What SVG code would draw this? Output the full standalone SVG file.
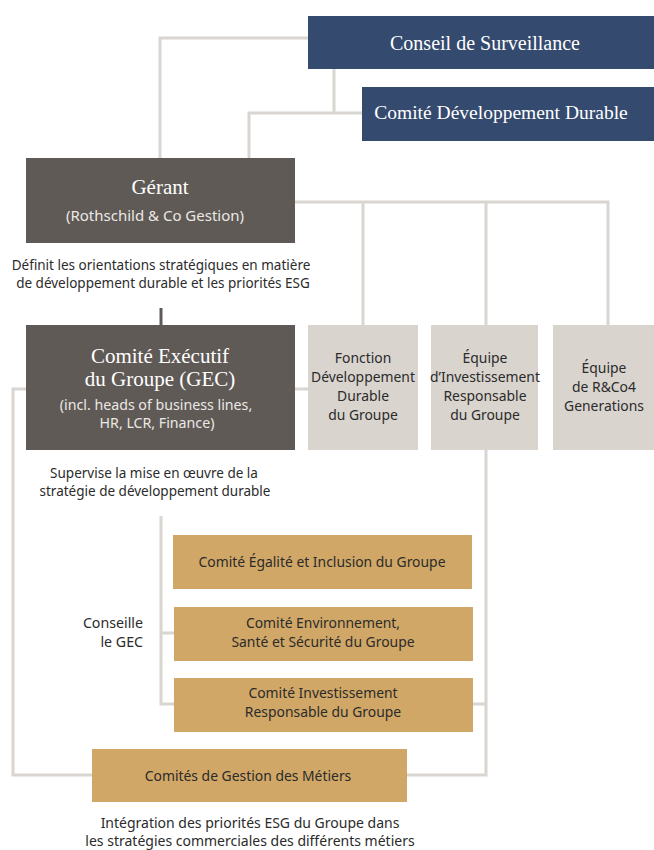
<svg xmlns="http://www.w3.org/2000/svg" width="654" height="850" viewBox="0 0 654 850">
<style>
.navy{fill:#344a6e}
.dark{fill:#5f5a56}
.lgray{fill:#d9d4ce}
.gold{fill:#d0a766}
.ln{fill:none;stroke:#d9d5d0;stroke-width:3}
.lnd{fill:none;stroke:#5f5a56;stroke-width:3}
.serif{font-family:"Liberation Serif","DejaVu Serif",serif;fill:#ffffff;text-anchor:middle}
.sans{font-family:"Noto Sans","Liberation Sans",sans-serif;text-anchor:middle}
.w{fill:#ebe8e5}
.k{fill:#2b2b2b}
.d{font-size:13.5px}
.b{font-size:13.9px}
.s{font-size:14.2px}
</style>
<rect width="654" height="850" fill="#ffffff"/>
<g id="connectors">
<path class="ln" d="M308,38 H160 V158"/>
<path class="ln" d="M334,69 V113 M362,113 H249 V158"/>
<path class="ln" d="M295,202 H608 V325 M363,202 V325 M486,202 V325"/>
<path class="lnd" d="M161,308 V325"/>
<path class="ln" d="M26,389 H13 V775 H92"/>
<path class="ln" d="M295,389 H308"/>
<path class="ln" d="M486,450 V775 H407 M473,704 H486"/>
<path class="ln" d="M161,516 V704 H174 M161,633 H174"/>
</g>
<g id="conseil">
<rect class="navy" x="308" y="16" width="346" height="53"/>
<text class="serif" x="485" y="50" font-size="20">Conseil de Surveillance</text>
</g>
<g id="comite-dd">
<rect class="navy" x="362" y="87" width="292" height="54"/>
<text class="serif" x="501" y="119" font-size="19.5">Comité Développement Durable</text>
</g>
<g id="gerant">
<rect class="dark" x="26" y="158" width="269" height="85"/>
<text class="serif" x="160" y="194" font-size="21">Gérant</text>
<text class="sans w" x="155" y="221" font-size="15">(Rothschild &amp; Co Gestion)</text>
</g>
<g id="gerant-desc">
<text class="sans k d" x="161" y="270">Définit les orientations stratégiques en matière</text>
<text class="sans k d" x="163" y="288">de développement durable et les priorités ESG</text>
</g>
<g id="gec">
<rect class="dark" x="26" y="325" width="269" height="125"/>
<text class="serif" x="160" y="363" font-size="21">Comité Exécutif</text>
<text class="serif" x="160" y="386" font-size="21">du Groupe (GEC)</text>
<text class="sans w s" x="156" y="410">(incl. heads of business lines,</text>
<text class="sans w s" x="157" y="428">HR, LCR, Finance)</text>
</g>
<g id="gec-desc">
<text class="sans k d" x="154" y="478">Supervise la mise en œuvre de la</text>
<text class="sans k d" x="155" y="496">stratégie de développement durable</text>
</g>
<g id="fonction-dd">
<rect class="lgray" x="308" y="325" width="110" height="125"/>
<text class="sans k b" x="363" y="363">Fonction</text>
<text class="sans k b" x="363" y="382">Développement</text>
<text class="sans k b" x="363" y="401">Durable</text>
<text class="sans k b" x="363" y="420">du Groupe</text>
</g>
<g id="equipe-ir">
<rect class="lgray" x="431" y="325" width="107" height="125"/>
<text class="sans k b" x="485" y="363">Équipe</text>
<text class="sans k b" x="485" y="382">d’Investissement</text>
<text class="sans k b" x="485" y="401">Responsable</text>
<text class="sans k b" x="485" y="420">du Groupe</text>
</g>
<g id="equipe-rco4">
<rect class="lgray" x="553" y="325" width="101" height="125"/>
<text class="sans k b" x="604" y="373">Équipe</text>
<text class="sans k b" x="604" y="392">de R&amp;Co4</text>
<text class="sans k b" x="604" y="411">Generations</text>
</g>
<g id="conseille">
<text class="sans k" x="143" y="628" font-size="14.2" style="text-anchor:end">Conseille</text>
<text class="sans k" x="143" y="647" font-size="14.2" style="text-anchor:end">le GEC</text>
</g>
<g id="comite-egalite">
<rect class="gold" x="173" y="535" width="299" height="54"/>
<text class="sans k b" x="322" y="567">Comité Égalité et Inclusion du Groupe</text>
</g>
<g id="comite-ess">
<rect class="gold" x="174" y="607" width="299" height="54"/>
<text class="sans k b" x="323" y="628">Comité Environnement,</text>
<text class="sans k b" x="323" y="647">Santé et Sécurité du Groupe</text>
</g>
<g id="comite-ir">
<rect class="gold" x="174" y="678" width="299" height="54"/>
<text class="sans k b" x="323" y="698">Comité Investissement</text>
<text class="sans k b" x="323" y="717">Responsable du Groupe</text>
</g>
<g id="comites-gestion">
<rect class="gold" x="92" y="749" width="315" height="53"/>
<text class="sans k b" x="248" y="781">Comités de Gestion des Métiers</text>
</g>
<g id="gestion-desc">
<text class="sans k" x="250" y="828" font-size="14">Intégration des priorités ESG du Groupe dans</text>
<text class="sans k" x="250" y="846" font-size="14">les stratégies commerciales des différents métiers</text>
</g>
</svg>
